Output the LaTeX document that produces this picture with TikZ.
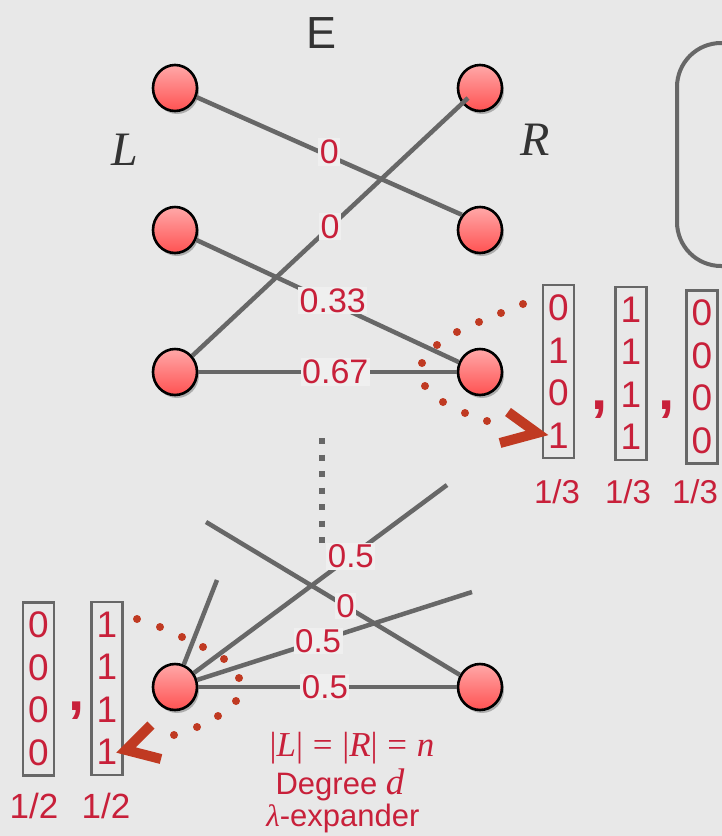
\documentclass[tikz,border=0pt]{standalone}
\usepackage{fontspec}
\setmainfont{Liberation Sans}
\newfontfamily\serifrm{Liberation Serif}
\usetikzlibrary{shapes.geometric,shadows}

\definecolor{bgc}{HTML}{E8E8E8}
\definecolor{edgec}{HTML}{676767}
\definecolor{labc}{HTML}{C8203A}
\definecolor{dotc}{HTML}{C03A22}
\definecolor{inkc}{HTML}{333333}
\definecolor{labbg}{HTML}{EFEFEF}
\definecolor{nodetop}{HTML}{FFA8A8}
\definecolor{nodebot}{HTML}{FF5252}

\newcommand{\fs}[1]{\fontsize{#1}{#1}\selectfont}

\tikzset{
  vert/.style={ellipse, minimum width=44pt, minimum height=46pt, inner sep=0pt,
    draw=black, line width=2.6pt, top color=nodetop, bottom color=nodebot,
    drop shadow={shadow xshift=2pt, shadow yshift=-3pt, opacity=0.25, fill=black}},
  edge/.style={draw=edgec, line width=4.5pt},
  wlab/.style={fill=labbg, text=labc, inner sep=1.5pt, font=\fs{34}},
  wlabs/.style={fill=labbg, text=labc, inner sep=1.5pt, font=\fs{33}},
  vecbox/.style={draw=edgec, line width=2.2pt, text=labc, inner sep=0pt,
    minimum width=31pt, minimum height=173pt, align=center, font=\fontsize{37}{42.5}\selectfont},
  comma/.style={text=labc, anchor=base, inner sep=0pt, font=\bfseries\fs{58}},
  prob/.style={text=labc, inner sep=0pt},
  reddot/.style={fill=dotc},
  chevron/.style={draw=dotc, line width=10pt, line join=miter, line cap=butt},
  gdots/.style={draw=edgec, line width=6pt, dash pattern=on 6pt off 10.5pt},
}

\begin{document}
\begin{tikzpicture}[x=1pt, y=-1pt]
  \fill[bgc] (0,0) rectangle (722,836);
  \useasboundingbox (0,0) rectangle (722,836);
  \clip (0,0) rectangle (722,836);

  % rounded frame at the right border
  \draw[edgec, line width=4pt, rounded corners=44pt] (677,43) rectangle (790,266);

  % titles
  \node[text=inkc, font=\fs{45}] (E) at (322,33) {E};
  \node[text=inkc, font=\serifrm\itshape\fs{48}] (Lset) at (125,150) {L};
  \node[text=inkc, font=\serifrm\itshape\fs{48}] (Rset) at (535,140) {R};

  % vertices
  \node[vert] (l1) at (175,88) {};
  \node[vert] (l2) at (175,230) {};
  \node[vert] (l3) at (175,372) {};
  \node[vert] (r1) at (480,88) {};
  \node[vert] (r2) at (480,230) {};
  \node[vert] (r3) at (480,372) {};
  \node[vert] (b1) at (175,687) {};
  \node[vert] (b2) at (480,687) {};

  % top edges
  \coordinate (r1tip) at (468,98);
  \draw[edge] (l1.-23) -- node[wlab, pos=0.5, yshift=4pt] {0} (r2.140);
  \draw[edge] (r1tip) -- node[wlab, pos=0.5] {0} (l3);
  \draw[edge] (l2) -- node[wlab, pos=0.52, yshift=3pt] {0.33} (r3);
  \draw[edge] (l3) -- node[wlab, pos=0.53] {0.67} (r3);

  % elided rows
  \coordinate (gtop) at (322,438);
  \coordinate (gbot) at (322,548);
  \draw[gdots] (gtop) -- (gbot);

  % bottom edges
  \coordinate (c1) at (447,485);
  \coordinate (c2) at (217,580);
  \coordinate (c3) at (472,592);
  \coordinate (c4) at (206,522);
  \draw[edge] (c4) -- node[wlabs, pos=0.55] {0} (b2);
  \draw[edge] (b1) -- node[wlabs, pos=0.62] {0.5} (c1);
  \draw[edge] (b1) -- (c2);
  \draw[edge] (b1) -- node[wlabs, pos=0.44] {0.5} (c3);
  \draw[edge] (b1) -- node[wlabs, pos=0.49] {0.5} (b2);

  % vectors on the right
  \node[vecbox] (v1) at (558.5,371.5) {0\\1\\0\\1};
  \node[vecbox] (v2) at (631,373.5) {1\\1\\1\\1};
  \node[vecbox] (v3) at (702,377) {0\\0\\0\\0};
  \node[comma] (k1) at (600,409) {,};
  \node[comma] (k2) at (667,409) {,};
  \node[prob, font=\fs{33}] (p1) at (557,492) {1/3};
  \node[prob, font=\fs{33}] (p2) at (628,492) {1/3};
  \node[prob, font=\fs{33}] (p3) at (695,492) {1/3};

  % vectors on the left
  \node[vecbox] (w1) at (38.5,689) {0\\0\\0\\0};
  \node[vecbox] (w2) at (107,688.5) {1\\1\\1\\1};
  \node[comma] (k3) at (77,710) {,};
  \node[prob, font=\fs{35}] (q1) at (34,806) {1/2};
  \node[prob, font=\fs{35}] (q2) at (106,806) {1/2};

  % dotted arcs with arrowheads
  \foreach \p in {(523,304),(501,313),(479,322),(457,332),(437,345),
                  (422,363),(425,386),(443,402),(465,413),(487,421)}
    \fill[reddot] \p circle (4);
  \draw[chevron] (508,412) -- (537,433) -- (500,443);

  \foreach \p in {(137,619),(160,627),(182,637),(203,647),(224,659),
                  (239,678),(236,701),(218,716),(197,727),(174,735)}
    \fill[reddot] \p circle (4);
  \draw[chevron] (151,725) -- (126,750) -- (161,759);

  % caption
  \node[prob, font=\serifrm\fs{35}] (cap1) at (352,748)
    {|\textit{L}|\;=\;|\textit{R}|\;=\;\textit{n}};
  \node[prob, font=\fs{31}] (cap2) at (340,785) {Degree {\serifrm\itshape\fs{37}d}};
  \node[prob, font=\fs{31}] (cap3) at (343,818) {{\serifrm\itshape λ}-expander};
\end{tikzpicture}
\end{document}
